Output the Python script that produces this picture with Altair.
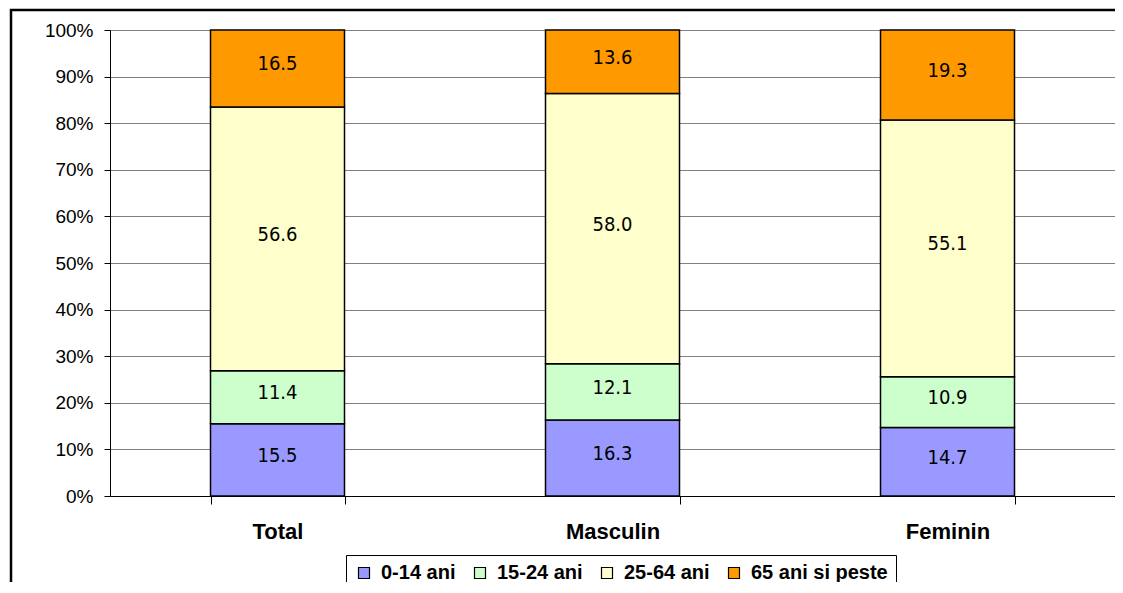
import altair as alt
import pandas as pd

categories = ["Total", "Masculin", "Feminin"]
groups = ["0-14 ani", "15-24 ani", "25-64 ani", "65 ani si peste"]
values_0_14 = [15.5, 16.3, 14.7]
values_15_24 = [11.4, 12.1, 10.9]
values_25_64 = [56.6, 58.0, 55.1]
values_65 = [16.5, 13.6, 19.3]
colors = ["#9999FF", "#CCFFCC", "#FFFFCC", "#FF9900"]

series = [values_0_14, values_15_24, values_25_64, values_65]
rows = []
for ci, cat in enumerate(categories):
    total = sum(s[ci] for s in series)
    cum = 0.0
    for gi, g in enumerate(groups):
        v = series[gi][ci]
        rows.append({"cat": cat, "grp": g, "order": gi, "value": v,
                     "mid": (cum + v / 2) / total, "label": f"{v:.1f}"})
        cum += v
df = pd.DataFrame(rows)

W, H = 1005, 466
FONT = "Liberation Sans, Arial, sans-serif"
NARROW = "'Liberation Sans Narrow', 'Arial Narrow', 'DejaVu Sans Condensed', 'Liberation Sans', sans-serif"

x_enc = alt.X("cat:N", sort=categories, title=None,
              scale=alt.Scale(paddingInner=0.6, paddingOuter=0.3),
              axis=alt.Axis(labelAngle=0, labelFontSize=22, labelFontWeight="bold",
                            labelFont=FONT, labelColor="black", labelPadding=17,
                            tickBand="extent", tickSize=8, tickColor="black",
                            domainColor="black", domainWidth=1, grid=False))

bars = alt.Chart(df).mark_bar(stroke="black", strokeWidth=1.5).encode(
    x=x_enc,
    y=alt.Y("value:Q", stack="normalize", title=None,
            scale=alt.Scale(domain=[0, 1]),
            axis=alt.Axis(format=".0%", values=[i / 10 for i in range(11)],
                          labelFontSize=19, labelFont=FONT, labelColor="black",
                          labelPadding=11, tickSize=6, tickColor="black",
                          domainColor="black", gridColor="#808080", gridWidth=1)),
    color=alt.Color("grp:N", sort=groups, title=None,
                    scale=alt.Scale(domain=groups, range=colors),
                    legend=alt.Legend(orient="none", legendX=236, legendY=525,
                                      direction="horizontal", columns=4,
                                      symbolType="square", symbolSize=121,
                                      symbolStrokeColor="black", symbolStrokeWidth=1.2,
                                      labelFontSize=20, labelFontWeight="bold",
                                      labelFont=FONT, labelColor="black",
                                      strokeColor="black", padding=8,
                                      columnPadding=14, symbolOffset=0, labelOffset=7)),
    order=alt.Order("order:Q"),
)

text = alt.Chart(df).mark_text(fontSize=20, font=NARROW, color="black", dy=-4).encode(
    x=alt.X("cat:N", sort=categories),
    y=alt.Y("mid:Q"),
    text="label:N",
)

border = alt.Chart(pd.DataFrame({"a": [0]})).mark_rect(
    fill=None, stroke="black", strokeWidth=2.5, clip=False
).encode(x=alt.value(-99), x2=alt.value(1200), y=alt.value(-20), y2=alt.value(700))

chart = alt.layer(border, bars, text).properties(
    width=W, height=H,
    autosize=alt.AutoSizeParams(type="none"),
    padding={"left": 102, "top": 22, "right": 0, "bottom": 86},
).configure_view(stroke=None).configure(background="white")

chart.save("out.html", embed_options={"renderer": "svg", "actions": False})
